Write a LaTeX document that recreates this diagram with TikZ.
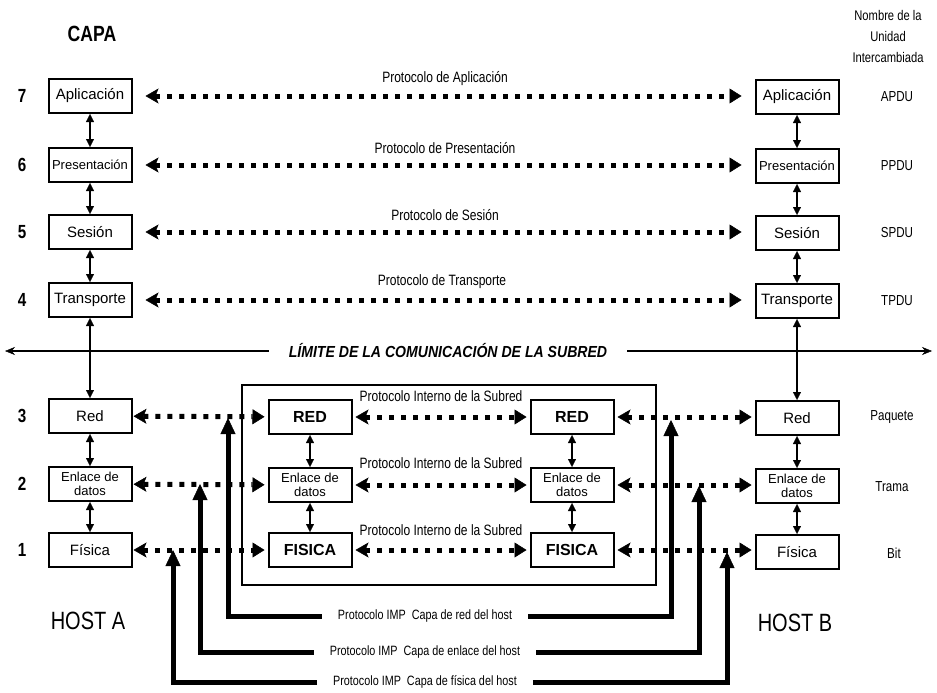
\documentclass[tikz,border=0pt]{standalone}
\usepackage{fontspec}
\setmainfont{Liberation Sans}
\newfontfamily\narrow[FakeStretch=0.8]{Liberation Sans}
\newfontfamily\limfont[FakeStretch=0.88]{Liberation Sans}
\usetikzlibrary{arrows.meta,calc}
\begin{document}
\begin{tikzpicture}[x=1pt,y=-1pt,
  box/.style={draw,line width=2pt,minimum width=83pt,minimum height=34pt,inner sep=0pt,align=center,font=\fontsize{15}{15}\selectfont},
  smallbox/.style={box,font=\fontsize{13}{14}\selectfont},
  boldbox/.style={box,font=\fontsize{16}{16}\selectfont\bfseries},
  num/.style={font=\narrow\fontsize{19}{19}\selectfont\bfseries},
  plabel/.style={font=\narrow\fontsize{15}{15}\selectfont,inner sep=1pt},
  sublabel/.style={font=\narrow\fontsize{15}{15}\selectfont,inner sep=0pt},
  pdu/.style={font=\narrow\fontsize{14.5}{14.5}\selectfont},
  head/.style={font=\narrow\fontsize{14}{14}\selectfont},
  host/.style={font=\narrow\fontsize{25}{25}\selectfont},
  implabel/.style={font=\narrow\fontsize{13.5}{13.5}\selectfont,inner sep=0pt,outer xsep=16pt},
  limlabel/.style={font=\limfont\fontsize{16}{16}\selectfont\bfseries\itshape,inner sep=0pt,outer xsep=20pt},
  dots/.style={line width=5pt,dash pattern=on 5pt off 7pt,
    {Stealth[length=13pt,width=15pt,inset=3pt,line width=0.5pt]}-{Triangle[length=12pt,width=15pt,line width=0.5pt]}},
  thin/.style={line width=1.6pt,{Triangle[length=8pt,width=8pt,line width=0.3pt]}-{Triangle[length=8pt,width=8pt,line width=0.3pt]}},
  imp/.style={line width=5pt,-{Triangle[length=16pt,width=15pt,line width=0.5pt]}},
  limarrow/.style={line width=1.5pt,-{Stealth[length=10pt,width=8pt,line width=0.5pt]}}
]
\useasboundingbox (0,0) rectangle (937,693);

% titles
\node[font=\narrow\fontsize{22}{22}\selectfont\bfseries] (capa) at (92,34) {CAPA};
\node[head] (h1) at (888,15) {Nombre de la};
\node[head] (h2) at (888,36) {Unidad};
\node[head] (h3) at (888,57) {Intercambiada};

% host A upper
\node[box] (a7) at (90,96) {Aplicación};
\node[smallbox] (a6) at (90,165) {Presentación};
\node[box] (a5) at (90,232) {Sesión};
\node[box] (a4) at (90,300) {Transporte};
% host A lower
\node[box] (a3) at (90,416) {Red};
\node[smallbox] (a2) at (90,484) {Enlace de\\datos};
\node[box] (a1) at (90,550) {Física};

% host B upper
\node[box] (b7) at (797,97) {Aplicación};
\node[smallbox] (b6) at (797,166) {Presentación};
\node[box] (b5) at (797,233) {Sesión};
\node[box] (b4) at (797,301) {Transporte};
% host B lower
\node[box] (b3) at (797,418) {Red};
\node[smallbox] (b2) at (797,486) {Enlace de\\datos};
\node[box] (b1) at (797,552) {Física};

% subnet
\node[draw,line width=1.5pt,minimum width=414pt,minimum height=200pt,inner sep=0pt] (subnet) at (449,485) {};
\node[boldbox] (s3) at (310,417) {RED};
\node[smallbox] (s2) at (310,485) {Enlace de\\datos};
\node[boldbox] (s1) at (310,550) {FISICA};
\node[boldbox] (t3) at (572,417) {RED};
\node[smallbox] (t2) at (572,485) {Enlace de\\datos};
\node[boldbox] (t1) at (572,550) {FISICA};

% layer numbers
\node[num] (n7) at (22,96) {7};
\node[num] (n6) at (22,165) {6};
\node[num] (n5) at (22,232) {5};
\node[num] (n4) at (22,300) {4};
\node[num] (n3) at (22,416) {3};
\node[num] (n2) at (22,484) {2};
\node[num] (n1) at (22,550) {1};

% PDU names
\node[pdu] (u7) at (897,97) {APDU};
\node[pdu] (u6) at (897,166) {PPDU};
\node[pdu] (u5) at (897,233) {SPDU};
\node[pdu] (u4) at (897,301) {TPDU};
\node[pdu] (u3) at (892,417) {Paquete};
\node[pdu] (u2) at (892,487) {Trama};
\node[pdu] (u1) at (894,553) {Bit};

% host labels
\node[host] (hA) at (88,621) {HOST A};
\node[host] (hB) at (795,623) {HOST B};

% protocol labels (upper)
\node[plabel] (p7) at (445,79) {Protocolo de Aplicación};
\node[plabel] (p6) at (445,148) {Protocolo de Presentación};
\node[plabel] (p5) at (445,215) {Protocolo de Sesión};
\node[plabel] (p4) at (442,282) {Protocolo de Transporte};

% peer dotted arrows (upper)
\draw[dots,shorten <=13pt,shorten >=13pt] (a7) -- (a7 -| b7.west);
\draw[dots,shorten <=13pt,shorten >=13pt] (a6) -- (a6 -| b6.west);
\draw[dots,shorten <=13pt,shorten >=13pt] (a5) -- (a5 -| b5.west);
\draw[dots,shorten <=13pt,shorten >=13pt] (a4) -- (a4 -| b4.west);

% vertical thin arrows host A
\draw[thin] (a7) -- (a6);
\draw[thin] (a6) -- (a5);
\draw[thin] (a5) -- (a4);
\draw[thin] (a4) -- (a3);
\draw[thin] (a3) -- (a2);
\draw[thin] (a2) -- (a1);
% host B
\draw[thin] (b7) -- (b6);
\draw[thin] (b6) -- (b5);
\draw[thin] (b5) -- (b4);
\draw[thin] (b4) -- (b3);
\draw[thin] (b3) -- (b2);
\draw[thin] (b2) -- (b1);
% subnet nodes
\draw[thin] (s3) -- (s2);
\draw[thin] (s2) -- (s1);
\draw[thin] (t3) -- (t2);
\draw[thin] (t2) -- (t1);

% limit line
\node[limlabel] (lim) at (448,351) {LÍMITE DE LA COMUNICACIÓN DE LA SUBRED};
\coordinate (limL) at (5,351);
\coordinate (limR) at (932,351);
\draw[limarrow] (lim.west) -- (limL);
\draw[limarrow] (lim.east) -- (limR);

% lower dotted arrows
\draw[dots,shorten <=1pt,shorten >=3pt] (a3) -- (s3);
\draw[dots,shorten <=1pt,shorten >=3pt] (a2) -- (s2);
\draw[dots,shorten <=1pt,shorten >=3pt] (a1) -- (s1);
\draw[dots,shorten <=3pt,shorten >=3pt] (s3) -- (t3);
\draw[dots,shorten <=3pt,shorten >=3pt] (s2) -- (t2);
\draw[dots,shorten <=3pt,shorten >=3pt] (s1) -- (t1);
\draw[dots,shorten <=3pt,shorten >=3pt] (t3) -- (t3 -| b3.west);
\draw[dots,shorten <=3pt,shorten >=3pt] (t2) -- (t2 -| b2.west);
\draw[dots,shorten <=3pt,shorten >=3pt] (t1) -- (t1 -| b1.west);

% subnet internal protocol labels
\node[sublabel,fill=white] (q3) at (441,396) {Protocolo Interno de la Subred};
\node[sublabel,fill=white] (q2) at (441,463) {Protocolo Interno de la Subred};
\node[sublabel,fill=white] (q1) at (441,530) {Protocolo Interno de la Subred};

% IMP protocols
\node[implabel] (m3) at (425,616) {Protocolo IMP\ \ Capa de red del host};
\node[implabel] (m2) at (425,652) {Protocolo IMP\ \ Capa de enlace del host};
\node[implabel] (m1) at (425,682) {Protocolo IMP\ \ Capa de física del host};
\coordinate (m3L) at (228,418);
\coordinate (m3R) at (671,420);
\coordinate (m2L) at (200,484);
\coordinate (m2R) at (699,486);
\coordinate (m1L) at (173,550);
\coordinate (m1R) at (727,552);
\draw[imp] (m3.west) -| (m3L);
\draw[imp] (m3.east) -| (m3R);
\draw[imp] (m2.west) -| (m2L);
\draw[imp] (m2.east) -| (m2R);
\draw[imp] (m1.west) -| (m1L);
\draw[imp] (m1.east) -| (m1R);
\end{tikzpicture}
\end{document}
